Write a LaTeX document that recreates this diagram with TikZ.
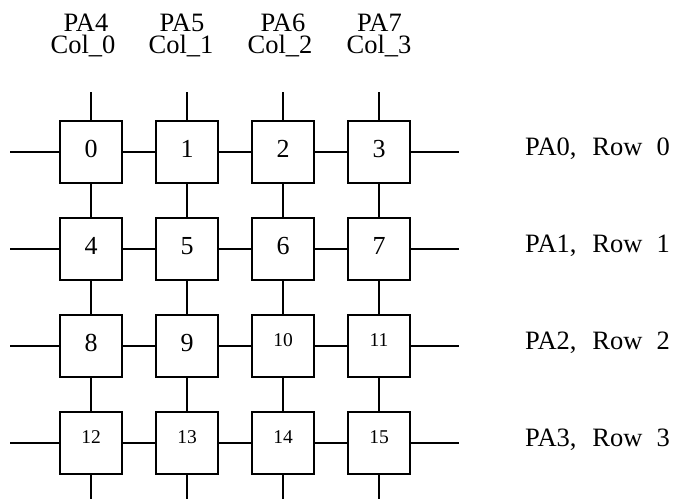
\documentclass[tikz,border=0pt]{standalone}
\usepackage{fontspec}
\setmainfont{Liberation Serif}
\begin{document}
\begin{tikzpicture}[x=1pt,y=-1pt,
  cell/.style={draw,line width=1.8pt,minimum size=62pt,inner sep=0pt},
  wire/.style={line width=1.6pt},
  big/.style={font=\fontsize{26}{27}\selectfont,anchor=base},
  small/.style={font=\fontsize{19.5}{20}\selectfont,anchor=base},
  lab/.style={font=\fontsize{26.5}{27}\selectfont,inner sep=0pt},
]
\useasboundingbox (0,0) rectangle (673,499);
% cells
\foreach \r in {0,1,2,3}{
  \foreach \c in {0,1,2,3}{
    \pgfmathtruncatemacro{\n}{4*\r+\c}
    \node[cell] (b\n) at ({91+96*\c},{152+97*\r}) {};
  }
}
% numbers
\foreach \n in {0,...,9}{
  \node[big] at ([yshift=-5pt]b\n.center) {\n};
}
\foreach \n in {10,...,15}{
  \node[small] at (b\n.center) {\n};
}
% horizontal wires
\foreach \r in {0,1,2,3}{
  \pgfmathtruncatemacro{\a}{4*\r}
  \pgfmathtruncatemacro{\b}{4*\r+1}
  \pgfmathtruncatemacro{\cc}{4*\r+2}
  \pgfmathtruncatemacro{\d}{4*\r+3}
  \coordinate (L\r) at (10,{152+97*\r});
  \coordinate (R\r) at (459,{152+97*\r});
  \draw[wire] (L\r) -- (b\a.west);
  \draw[wire] (b\a.east) -- (b\b.west);
  \draw[wire] (b\b.east) -- (b\cc.west);
  \draw[wire] (b\cc.east) -- (b\d.west);
  \draw[wire] (b\d.east) -- (R\r);
}
% vertical wires
\foreach \c in {0,1,2,3}{
  \pgfmathtruncatemacro{\a}{\c}
  \pgfmathtruncatemacro{\b}{\c+4}
  \pgfmathtruncatemacro{\cc}{\c+8}
  \pgfmathtruncatemacro{\d}{\c+12}
  \coordinate (T\c) at ({91+96*\c},92);
  \coordinate (B\c) at ({91+96*\c},499);
  \draw[wire] (T\c) -- (b\a.north);
  \draw[wire] (b\a.south) -- (b\b.north);
  \draw[wire] (b\b.south) -- (b\cc.north);
  \draw[wire] (b\cc.south) -- (b\d.north);
  \draw[wire] (b\d.south) -- (B\c);
}
% column labels
\node[lab,anchor=base] (p4) at (86,31.5) {PA4};
\node[lab,anchor=base] (p5) at (182,31.5) {PA5};
\node[lab,anchor=base] (p6) at (283,31.5) {PA6};
\node[lab,anchor=base] (p7) at (379.5,31.5) {PA7};
\node[lab,anchor=base] (c0) at (83,53.5) {Col\_0};
\node[lab,anchor=base] (c1) at (181,53.5) {Col\_1};
\node[lab,anchor=base] (c2) at (280,53.5) {Col\_2};
\node[lab,anchor=base] (c3) at (379,53.5) {Col\_3};
% row labels
\foreach \r in {0,1,2,3}{
  \pgfmathtruncatemacro{\p}{\r}
  \node[lab,anchor=base west] (rl\r) at (525,{155+97*\r}) {PA\p,\hspace{16pt}Row\hspace{14pt}\p};
}
\end{tikzpicture}
\end{document}
